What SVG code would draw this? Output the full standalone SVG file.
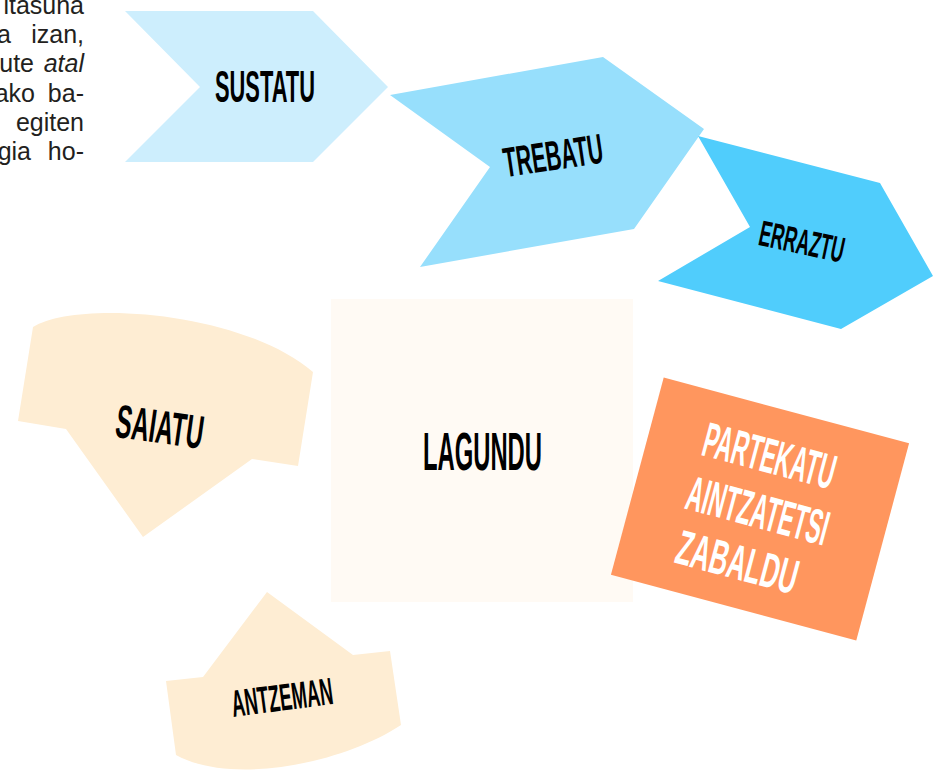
<svg xmlns="http://www.w3.org/2000/svg" width="942" height="770" viewBox="0 0 942 770">
<style>
.lbl{font-family:"Liberation Sans",Arial,sans-serif;font-weight:bold;fill:#000}
.wl{fill:#fff}
.tx{font-family:"Liberation Sans",Arial,sans-serif;font-size:25px;fill:#231f20}
</style>
<rect width="942" height="770" fill="#fff"/>
<g id="bodytext" class="tx" text-anchor="end">
<text x="84" y="14">itasuna</text>
<text x="11" y="43">a</text><text x="84" y="43">izan,</text>
<text x="34" y="72">ute</text><text x="84" y="72" font-style="italic">atal</text>
<text x="35" y="102">ako</text><text x="84" y="102">ba-</text>
<text x="84" y="131">egiten</text>
<text x="31" y="160">gia</text><text x="84" y="160">ho-</text>
</g>
<g id="connectors"></g>
<g id="sustatu">
<polygon points="125,11 313,11 388,87 313,162 125,162 200,87" fill="#cdeefd"/>
<text class="lbl" x="215" y="102" font-size="44" textLength="100" lengthAdjust="spacingAndGlyphs">SUSTATU</text>
</g>
<g id="trebatu">
<polygon points="390,95 603,57 704,129 634,229 420,267 490,167" fill="#97dffc"/>
<text class="lbl" transform="translate(553,155) rotate(-8.5)" x="-50" y="15" font-size="42" textLength="100" lengthAdjust="spacingAndGlyphs">TREBATU</text>
</g>
<g id="erraztu">
<polygon points="698,136 880,183 933,276 841,329 658,281 750,227" fill="#50cdfc"/>
<text class="lbl" transform="translate(802,241) rotate(12)" x="-43" y="13" font-size="36" textLength="86" lengthAdjust="spacingAndGlyphs">ERRAZTU</text>
</g>
<g id="saiatu">
<path d="M33,327 C75,300 240,310 313,372 L298,466 L252,459 L143,537 L66,429 L18,421 Z" fill="#feedd3"/>
<text class="lbl" transform="translate(160,426) rotate(8)" x="-44" y="17" font-size="47" textLength="88" lengthAdjust="spacingAndGlyphs">SAIATU</text>
</g>
<g id="antzeman">
<path d="M267,592 L353,655 L390,651 L401,725 C340,765 230,785 176,755 L166,681 L203,677 Z" fill="#feedd3"/>
<text class="lbl" transform="translate(282,697) rotate(-7.5)" x="-51" y="13.5" font-size="38" textLength="102" lengthAdjust="spacingAndGlyphs">ANTZEMAN</text>
</g>
<g id="lagundu">
<rect x="331" y="299" width="302" height="303" fill="#fffaf4"/>
<text class="lbl" x="423" y="470" font-size="53" textLength="119" lengthAdjust="spacingAndGlyphs">LAGUNDU</text>
</g>
<g id="partekatu" transform="translate(760,509) rotate(15)">
<rect x="-127" y="-102" width="254" height="204" fill="#ff965e"/>
<text class="lbl wl" x="-72" y="-37" font-size="49" textLength="135" lengthAdjust="spacingAndGlyphs">PARTEKATU</text>
<text class="lbl wl" x="-74" y="19" font-size="49" textLength="145" lengthAdjust="spacingAndGlyphs">AINTZATETSI</text>
<text class="lbl wl" x="-70" y="74" font-size="49" textLength="124" lengthAdjust="spacingAndGlyphs">ZABALDU</text>
</g>
</svg>
